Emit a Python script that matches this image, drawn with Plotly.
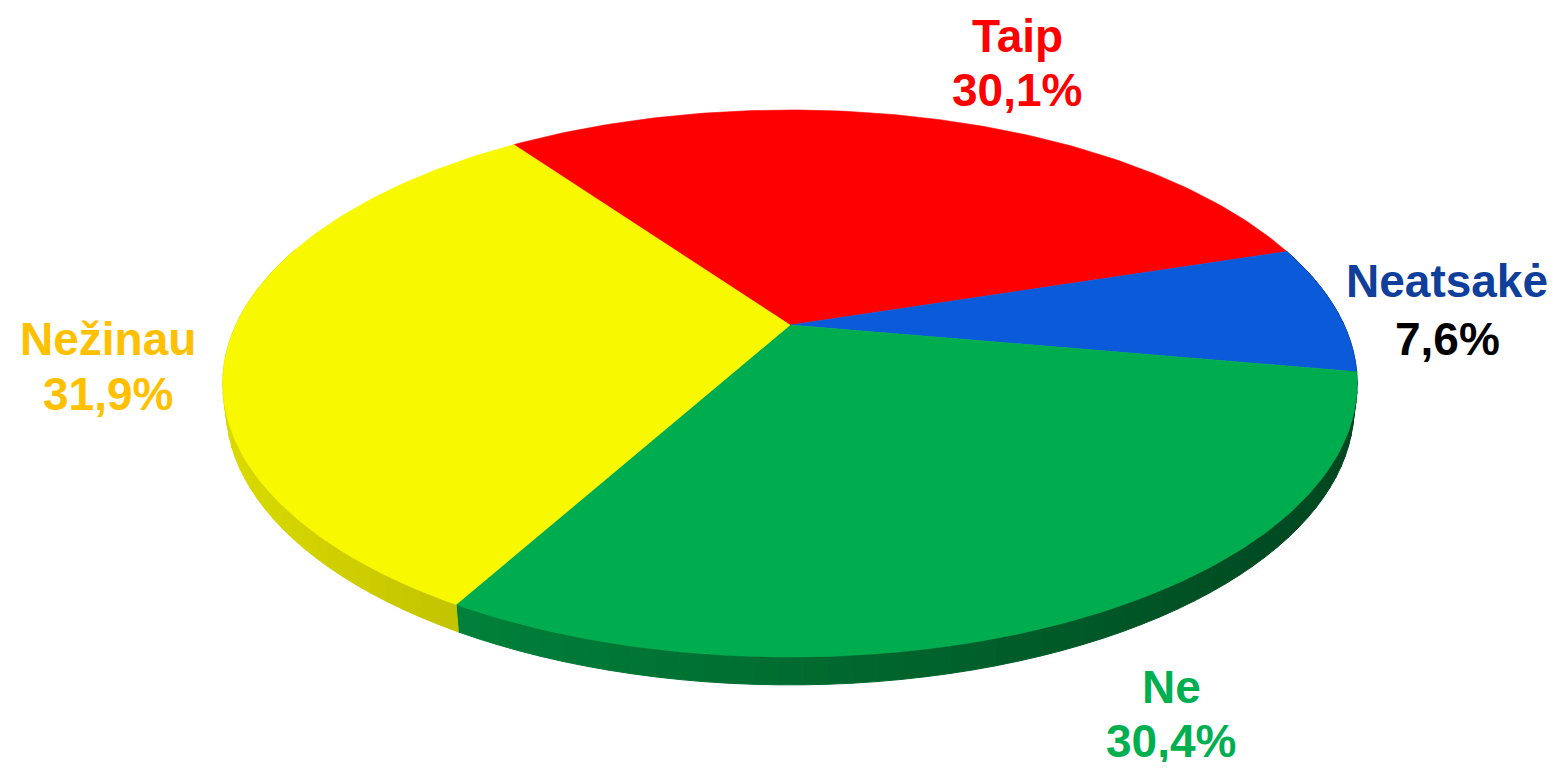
import numpy as np
import plotly.graph_objects as go

# ---- data ----
labels = ["Taip", "Neatsakė", "Ne", "Nežinau"]
values = [30.1, 7.6, 30.4, 31.9]
pct_text = ["30,1%", "7,6%", "30,4%", "31,9%"]
colors = ["#fe0000", "#0b5ad9", "#00ad4e", "#f8f800"]
label_colors = ["#ff0000", "#0f3f9a", "#00b050", "#ffc000"]
pct_colors = ["#ff0000", "#000000", "#00b050", "#ffc000"]

# ---- page geometry (browser body has an 8px margin) ----
W, H = 1560, 770
BODY = 8
FIG_W, FIG_H = W - 2 * BODY, H - 2 * BODY

# ---- 3D pie geometry (perspective projection) ----
cx, cy = 790.0, 325.0
elev = np.radians(28.1)
ce, se = np.cos(elev), np.sin(elev)
Dcam = 4.124
S = 2285.0
thick = 0.049
start_deg = 125.8  # math angle of first slice start, slices go clockwise


def proj(X, Y, Z):
    yp = Y * ce + Z * se
    depth = Dcam + Z * ce - Y * se
    return cx + S * X / depth, cy - S * yp / depth


def hex_to_rgb(h):
    h = h.lstrip("#")
    return np.array([int(h[i:i + 2], 16) for i in (0, 2, 4)], dtype=float)


def shade(hexc, f):
    r, g, b = np.clip(hex_to_rgb(hexc) * f, 0, 255).astype(int)
    return f"rgb({r},{g},{b})"


side_mult = {"#00ad4e": 0.93, "#f8f800": 0.98, "#fe0000": 0.95, "#0b5ad9": 0.95}

fig = go.Figure()
total = sum(values)
angles = [start_deg]
for v in values:
    angles.append(angles[-1] - 360.0 * v / total)

# side walls first
for i, c in enumerate(colors):
    a0, a1 = angles[i], angles[i + 1]
    n = max(4, int(abs(a0 - a1) / 2))
    th = np.radians(np.linspace(a0, a1, n + 1))
    for k in range(n):
        t0, t1 = th[k], th[k + 1]
        zm = np.sin((t0 + t1) / 2)
        if zm > 0.3:
            continue
        X = np.array([np.cos(t0), np.cos(t1), np.cos(t1), np.cos(t0), np.cos(t0)])
        Z = np.array([np.sin(t0), np.sin(t1), np.sin(t1), np.sin(t0), np.sin(t0)])
        Y = np.array([0, 0, -thick, -thick, 0])
        px, py = proj(X, Y, Z)
        u = (np.mean(px[:2]) - (cx - 567)) / (2 * 567)
        f = (0.90 - 0.46 * u) * side_mult[c]
        col = shade(c, f)
        fig.add_trace(go.Scatter(x=px, y=py, mode="lines", fill="toself",
                                 fillcolor=col, line=dict(color=col, width=1),
                                 hoverinfo="skip", showlegend=False))

# top faces
for i, c in enumerate(colors):
    a0, a1 = angles[i], angles[i + 1]
    n = max(8, int(abs(a0 - a1)))
    th = np.radians(np.linspace(a0, a1, n + 1))
    X = np.concatenate([[0], np.cos(th), [0]])
    Z = np.concatenate([[0], np.sin(th), [0]])
    Y = np.zeros_like(X)
    px, py = proj(X, Y, Z)
    fig.add_trace(go.Scatter(x=px, y=py, mode="lines", fill="toself",
                             fillcolor=c, line=dict(color=c, width=0.6),
                             name=labels[i], hoverinfo="name", showlegend=False))

# labels
lab_pos = [(1017, 36, 90), (1447, 281, 339), (1171, 687, 741), (108, 339, 394)]
font_family = "Liberation Sans, Arial, sans-serif"
for i in range(len(labels)):
    x, y1, y2 = lab_pos[i]
    fig.add_annotation(x=x, y=y1, text=f"<b>{labels[i]}</b>", showarrow=False,
                       xanchor="center", yanchor="middle",
                       font=dict(family=font_family, size=46, color=label_colors[i]))
    fig.add_annotation(x=x, y=y2, text=f"<b>{pct_text[i]}</b>", showarrow=False,
                       xanchor="center", yanchor="middle",
                       font=dict(family=font_family, size=46, color=pct_colors[i]))

fig.update_layout(
    width=FIG_W, height=FIG_H, margin=dict(l=0, r=0, t=0, b=0),
    paper_bgcolor="white", plot_bgcolor="white",
    xaxis=dict(range=[BODY, W - BODY], visible=False, fixedrange=True),
    yaxis=dict(range=[H - BODY, BODY], visible=False, fixedrange=True),
)
fig.write_html("out.html")
